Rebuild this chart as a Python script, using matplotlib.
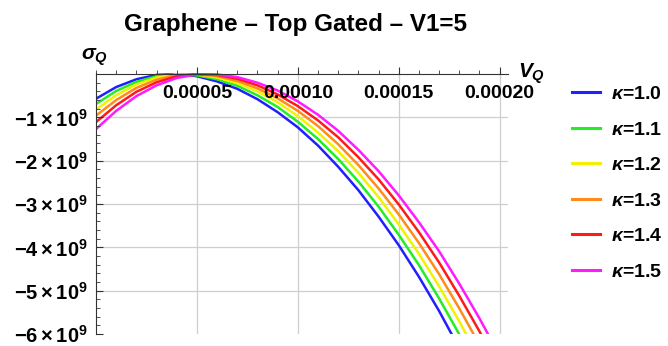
import numpy as np
import matplotlib
matplotlib.use("Agg")
import matplotlib.pyplot as plt
from matplotlib.ticker import MultipleLocator

plt.rcParams['font.family'] = ['Liberation Sans', 'DejaVu Sans']
plt.rcParams['mathtext.fontset'] = 'custom'
plt.rcParams['mathtext.rm'] = 'Liberation Sans:bold'
plt.rcParams['mathtext.bf'] = 'Liberation Sans:bold'
plt.rcParams['mathtext.it'] = 'Liberation Sans:italic:bold'

# V_Q grid in units of 1e-5, sigma_Q in units of 1e9
vq = [0, 1, 2, 3, 4, 5, 6, 7, 8, 9, 10, 11, 12, 13, 14, 15, 16, 17, 18, 19, 20]

sig_k10 = [-0.57, -0.30, -0.12, -0.02, 0.00, -0.05, -0.17, -0.34, -0.58, -0.88,
           -1.23, -1.65, -2.14, -2.68, -3.29, -3.95, -4.68, -5.47, -6.33]
sig_k11 = [-0.69, -0.39, -0.18, -0.05, 0.00, -0.03, -0.12, -0.27, -0.49, -0.76,
           -1.10, -1.50, -1.96, -2.48, -3.06, -3.71, -4.41, -5.18, -6.01, -6.90]
sig_k12 = [-0.82, -0.49, -0.24, -0.08, -0.01, -0.01, -0.08, -0.21, -0.40, -0.65,
           -0.97, -1.35, -1.78, -2.28, -2.84, -3.47, -4.15, -4.90, -5.71, -6.58]
sig_k13 = [-0.96, -0.60, -0.32, -0.13, -0.02, 0.00, -0.05, -0.16, -0.33, -0.56,
           -0.85, -1.20, -1.62, -2.10, -2.64, -3.24, -3.90, -4.62, -5.41, -6.25]
sig_k14 = [-1.11, -0.72, -0.41, -0.19, -0.05, 0.00, -0.02, -0.11, -0.26, -0.47,
           -0.74, -1.07, -1.46, -1.92, -2.43, -3.01, -3.65, -4.35, -5.12, -5.94, -6.83]
sig_k15 = [-1.27, -0.85, -0.51, -0.26, -0.09, -0.01, -0.01, -0.07, -0.20, -0.38,
           -0.63, -0.94, -1.31, -1.75, -2.24, -2.80, -3.42, -4.09, -4.84, -5.64, -6.50]

kappas = ['1.0', '1.1', '1.2', '1.3', '1.4', '1.5']
series = [sig_k10, sig_k11, sig_k12, sig_k13, sig_k14, sig_k15]
colors = ['#1f1fff', '#22ee22', '#f2f200', '#ff8c1a', '#ff1a1a', '#ff1aff']

fig = plt.figure(figsize=(6.68, 3.46), dpi=100)
ax = fig.add_axes([0.1437, 0.0347, 0.617, 0.755])
ax.set_axisbelow(False)

for s, c, k in zip(series, colors, kappas):
    x = np.array(vq[:len(s)]) * 1e-5
    y = np.array(s) * 1e9
    ax.plot(x, y, color=c, lw=1.8, label=r'$\kappa$=' + k,
            solid_joinstyle='round', zorder=2)

ax.set_xlim(0, 0.0002042)
ax.set_ylim(-6.0e9, 0.03e9)

ax.spines['top'].set_visible(False)
ax.spines['right'].set_visible(False)
ax.spines['bottom'].set_position(('data', 0))
ax.spines['bottom'].set_color('#333333')
ax.spines['left'].set_color('#333333')

ax.xaxis.set_minor_locator(MultipleLocator(0.00001))
ax.yaxis.set_minor_locator(MultipleLocator(0.2e9))

xt = [0.00005, 0.00010, 0.00015, 0.00020]
ax.set_xticks(xt)
ax.set_xticklabels(['0.00005', '0.00010', '0.00015', '0.00020'])
yt = [-6e9, -5e9, -4e9, -3e9, -2e9, -1e9]
ax.set_yticks(yt)
ax.set_yticklabels([r'$\mathbf{-%d\times10^{9}}$' % n for n in [6, 5, 4, 3, 2, 1]])

ax.tick_params(which='both', direction='in', color='#333333')
ax.tick_params(which='major', length=5, width=0.8)
ax.tick_params(which='minor', length=3, width=0.6)
ax.tick_params(axis='x', which='major', labelsize=14, pad=8)
ax.tick_params(axis='y', which='major', labelsize=14.5, pad=6)
for lab in ax.get_xticklabels():
    lab.set_fontweight('bold')

for v in xt:
    ax.axvline(v, color='#cfcfcf', lw=0.9, zorder=0)
for v in yt[1:]:
    ax.axhline(v, color='#cfcfcf', lw=0.9, zorder=0)

ax.text(-0.0000075, 0.39e9, r'$\sigma_Q$', fontsize=15, ha='left', va='center',
        clip_on=False)
ax.text(0.000209, 0.0e9, r'$V_Q$', fontsize=15, ha='left', va='center',
        clip_on=False)

fig.text(0.443, 0.928, 'Graphene \u2013 Top Gated \u2013 V1=5', fontsize=17.5,
         fontweight='bold', ha='center', va='center')

leg = ax.legend(loc='upper left', bbox_to_anchor=(0.845, 0.775),
                bbox_transform=fig.transFigure, frameon=False, fontsize=14,
                handlelength=1.45, handletextpad=0.55, labelspacing=0.92,
                borderaxespad=0)
for t in leg.get_texts():
    t.set_fontweight('bold')
for h in leg.get_lines():
    h.set_linewidth(2.2)

fig.savefig('out.png', dpi=100)
